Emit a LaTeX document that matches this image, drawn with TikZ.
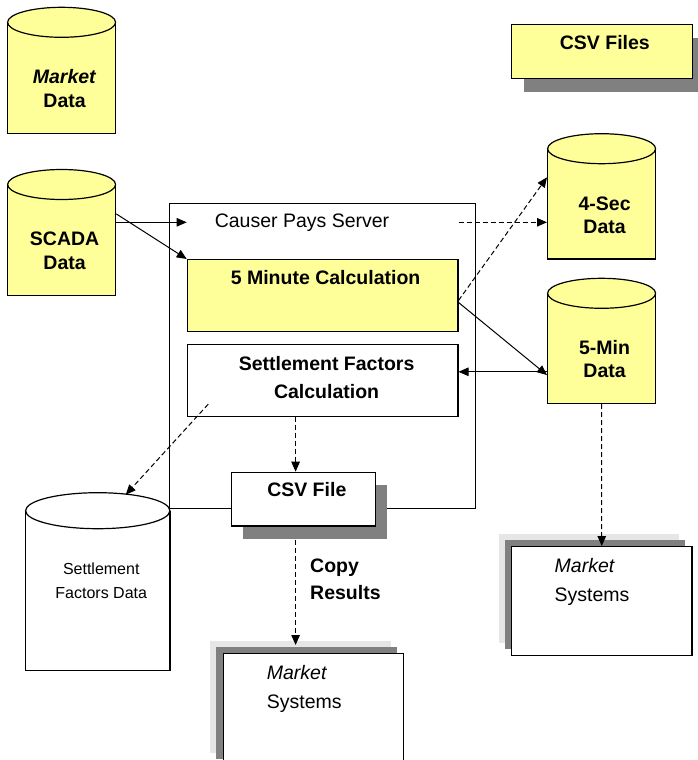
\documentclass[tikz,border=0pt]{standalone}
\usepackage{fontspec}
\setmainfont{Liberation Sans}
\usetikzlibrary{arrows.meta,shadows,positioning}
\definecolor{dbyellow}{HTML}{FFFF99}
\definecolor{shadedark}{HTML}{808080}
\definecolor{shadelight}{HTML}{E6E6E6}

\begin{document}
\begin{tikzpicture}[x=1pt,y=-1pt]
\useasboundingbox (0,0) rectangle (697,760);
\begin{scope}

\tikzstyle{drumnode} = [draw,line width=1.2pt,fill=dbyellow,minimum width=108pt,inner sep=0pt];
\tikzstyle{drumtop} = [draw,line width=1.2pt,fill=dbyellow];
\tikzstyle{boxnode} = [draw,line width=1.2pt,fill=dbyellow,inner sep=0pt];
\tikzstyle{filenode} = [boxnode,general shadow={shadow xshift=12pt,shadow yshift=-13pt,fill=shadedark}];
\tikzstyle{sysnode} = [boxnode,fill=white,general shadow={shadow xshift=-13pt,shadow yshift=13pt,fill=shadelight},general shadow={shadow xshift=-7pt,shadow yshift=7pt,fill=shadedark}];
\tikzstyle{plaintext} = [inner sep=0pt,align=center,font=\fontsize{19.5pt}{23.5pt}\selectfont];
\tikzstyle{boldtext} = [inner sep=0pt,align=center,font=\fontsize{19.5pt}{23.5pt}\selectfont\bfseries];
\tikzstyle{flow} = [-{Triangle[length=10pt,width=8.5pt]},line width=1pt];
\tikzstyle{dflow} = [flow,dash pattern=on 5pt off 3pt];

% data stores
\node [drumnode,anchor=north west,minimum height=110.4pt] (mkt) at (7,22.3) {};
\node [drumnode,anchor=north west,minimum height=110.5pt] (scada) at (7,184.5) {};
\node [drumnode,anchor=north west,minimum height=109.6pt] (sec4) at (547,148.7) {};
\node [drumnode,anchor=north west,minimum height=109.7pt] (min5) at (547,293.3) {};
\node [drumnode,anchor=north west,fill=white,minimum width=144.3pt,minimum height=159.3pt] (sfd) at (25,510.7) {};
\foreach \d in {mkt,scada,sec4,min5}
  \draw [drumtop] (\d.north) ellipse (54pt and 15pt);
\draw [drumtop,fill=white] (sfd.north) ellipse (72.15pt and 18pt);

\node [boldtext] (mkt-t) at ([xshift=3pt,yshift=-10.5pt]mkt.center) {\textit{Market}\\Data};
\node [boldtext] (scada-t) at ([xshift=3pt,yshift=-10.5pt]scada.center) {SCADA\\Data};
\node [boldtext] (sec4-t) at ([xshift=3pt,yshift=-11pt]sec4.center) {4-Sec\\Data};
\node [boldtext] (min5-t) at ([xshift=3pt,yshift=-10.5pt]min5.center) {5-Min\\Data};
\node [plaintext,font=\fontsize{16pt}{23.7pt}\selectfont] (sfd-t) at ([xshift=3.5pt,yshift=10.5pt]sfd.center) {Settlement\\Factors Data};

% server
\node [draw,line width=1.2pt,anchor=north west,minimum width=306pt,minimum height=305.3pt,inner sep=0pt] (srv) at (169,202.7) {};
\node [plaintext] (title) at (302,222.3) {Causer Pays Server};
\node [boxnode,anchor=north west,minimum width=270.6pt,minimum height=71.7pt] (calc5) at (186.7,259) {};
\node [boldtext] (calc5-t) at ([xshift=3pt,yshift=-19pt]calc5.north) {5 Minute Calculation};
\node [boxnode,fill=white,anchor=north,minimum width=270.6pt,minimum height=71.6pt] (settle) at ([yshift=-12pt]calc5.south) {};
\node [boldtext,font=\fontsize{19.5pt}{28.3pt}\selectfont\bfseries] (settle-t) at ([xshift=4pt,yshift=2.5pt]settle.center) {Settlement Factors\\Calculation};

% files
\node [filenode,anchor=north west,minimum width=180.5pt,minimum height=54pt] (csvs) at (511,24) {};
\node [boldtext] (csvs-t) at ([xshift=3pt,yshift=-19pt]csvs.north) {CSV Files};
\node [filenode,fill=white,anchor=north west,minimum width=144pt,minimum height=53.6pt] (csvf) at (230.7,471.7) {};
\node [boldtext] (csvf-t) at ([xshift=3.5pt,yshift=-18.3pt]csvf.north) {CSV File};

% market systems
\node [sysnode,anchor=north west,minimum width=180.3pt,minimum height=112pt] (mksys1) at (222.7,653) {};
\node [sysnode,anchor=north west,minimum width=180.3pt,minimum height=109pt] (mksys2) at (511,546) {};
\node [plaintext,align=left,anchor=north west,font=\fontsize{19.5pt}{29pt}\selectfont] (mksys1-t) at ([xshift=44pt,yshift=-12pt]mksys1.north west) {\textit{Market}\\Systems};
\node [plaintext,align=left,anchor=north west,font=\fontsize{19.5pt}{29pt}\selectfont] (mksys2-t) at ([xshift=43.5pt,yshift=-12.5pt]mksys2.north west) {\textit{Market}\\Systems};

\coordinate (cx) at ([xshift=-27pt]settle.south);
\node [boldtext,align=left,anchor=north west,font=\fontsize{19.5pt}{27.6pt}\selectfont\bfseries] (copy) at (310,558.5) {Copy\\Results};

\draw [flow] (scada.east |- title) -- (calc5.west |- title);
\draw [flow] ([yshift=26.5pt]scada.east) -- (calc5.north west);
\draw [dflow] (calc5.east |- title) -- (sec4.west |- title);
\draw [dflow] ([yshift=-5pt]calc5.east) -- ([yshift=26.8pt]sec4.west);
\draw [flow] ([yshift=-7pt]calc5.east) -- ([yshift=-26.3pt]min5.west);
\draw [flow] ([yshift=8.5pt]settle.east -| min5.west) -- ([yshift=8.5pt]settle.east);
\draw [dflow] (min5.south) -- (mksys2.north);
\draw [dflow] ([xshift=21.6pt,yshift=12.6pt]settle.south west) -- ([xshift=28pt,yshift=16pt]sfd.north);
\draw [dflow] (settle.south -| cx) -- (csvf.north -| cx);
\draw [dflow] ([yshift=-13pt]csvf.south -| cx) -- ([yshift=8pt]mksys1.north -| cx);

\end{scope}
\end{tikzpicture}
\end{document}
